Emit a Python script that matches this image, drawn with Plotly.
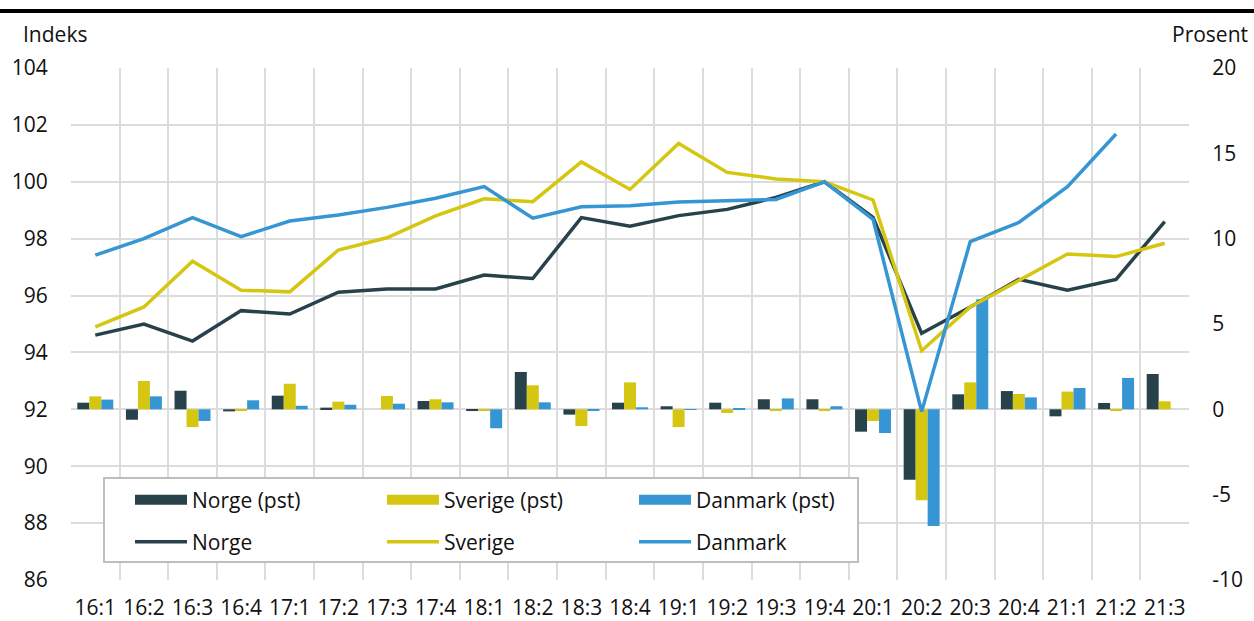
import plotly.graph_objects as go

categories = ["16:1", "16:2", "16:3", "16:4", "17:1", "17:2", "17:3", "17:4",
              "18:1", "18:2", "18:3", "18:4", "19:1", "19:2", "19:3", "19:4",
              "20:1", "20:2", "20:3", "20:4", "21:1", "21:2", "21:3"]

norge_idx = [94.61, 95.0, 94.4, 95.47, 95.35, 96.12, 96.23, 96.23,
             96.72, 96.6, 98.74, 98.44, 98.81, 99.03, 99.45, 100.0,
             98.75, 94.67, 95.6, 96.57, 96.19, 96.57, 98.6]
sverige_idx = [94.9, 95.6, 97.21, 96.19, 96.13, 97.6, 98.03, 98.8,
               99.4, 99.3, 100.7, 99.73, 101.35, 100.33, 100.1, 100.0,
               99.36, 94.06, 95.6, 96.52, 97.46, 97.37, 97.84]
danmark_idx = [97.42, 98.0, 98.74, 98.07, 98.62, 98.83, 99.1, 99.42,
               99.83, 98.72, 99.12, 99.16, 99.29, 99.32, 99.38, 100.0,
               98.68, 91.92, 97.9, 98.57, 99.83, 101.68, None]

norge_pst = [0.39, -0.61, 1.09, -0.12, 0.8, 0.1, 0.0, 0.49,
             -0.1, 2.19, -0.31, 0.39, 0.18, 0.39, 0.59, 0.59,
             -1.31, -4.12, 0.88, 1.07, -0.41, 0.37, 2.07]
sverige_pst = [0.76, 1.66, -1.04, -0.06, 1.5, 0.45, 0.78, 0.59,
               -0.07, 1.41, -0.98, 1.58, -1.04, -0.21, -0.1, -0.1,
               -0.68, -5.33, 1.58, 0.9, 1.04, -0.08, 0.47]
danmark_pst = [0.57, 0.76, -0.68, 0.53, 0.21, 0.27, 0.33, 0.41,
               -1.11, 0.41, -0.05, 0.12, -0.03, 0.04, 0.64, 0.18,
               -1.39, -6.84, 6.45, 0.7, 1.25, 1.84, None]

left_ticks = [86, 88, 90, 92, 94, 96, 98, 100, 102, 104]
right_ticks = [-10, -5, 0, 5, 10, 15, 20]

C_NO = "#27424A"
C_SE = "#D5C611"
C_DK = "#3596D3"
FONT = "Open Sans"
TXT = "#111111"
FS = 21

W, H = 1254, 621
L, R, T, B = 71, 65, 68, 41
pw = W - L - R
ph = H - T - B


def px_x(x):
    return (x - L) / pw


def px_y(y):
    return (H - B - y) / ph


fig = go.Figure()

# Bars (percent change) on the base axis, right side
for name, vals, col in [("Norge (pst)", norge_pst, C_NO),
                        ("Sverige (pst)", sverige_pst, C_SE),
                        ("Danmark (pst)", danmark_pst, C_DK)]:
    fig.add_trace(go.Bar(x=categories, y=vals, name=name, marker_color=col,
                         marker_line_width=0, yaxis="y", showlegend=False))
    # legend swatch (wide rectangle) for the bar series
    fig.add_trace(go.Scatter(x=[None], y=[None], name=name, mode="lines",
                             line=dict(color=col, width=14), yaxis="y",
                             legend="legend"))

# Index lines on the overlaying left axis (drawn above bars)
for name, vals, col in [("Norge", norge_idx, C_NO),
                        ("Sverige", sverige_idx, C_SE),
                        ("Danmark", danmark_idx, C_DK)]:
    fig.add_trace(go.Scatter(x=categories, y=vals, name=name, mode="lines",
                             line=dict(color=col, width=3.5), yaxis="y2",
                             legend="legend2"))

legend_common = dict(orientation="h", xanchor="left", yanchor="middle",
                     bgcolor="rgba(0,0,0,0)", borderwidth=0,
                     entrywidth=185, entrywidthmode="pixels", itemwidth=52,
                     font=dict(size=FS, color=TXT, family=FONT))

fig.update_layout(
    width=W, height=H,
    margin=dict(l=L, r=R, t=T, b=B, autoexpand=False),
    paper_bgcolor="white", plot_bgcolor="white",
    font=dict(family=FONT, size=FS, color=TXT),
    barmode="group", bargap=0.26, bargroupgap=0,
    xaxis=dict(type="category", range=[-0.5, 22.5], tickson="boundaries",
               showgrid=True, gridcolor="#DCDCDC", gridwidth=2,
               ticks="", ticklabelstandoff=13,
               tickangle=0, automargin=False,
               showline=False, zeroline=False,
               tickfont=dict(size=FS, color=TXT)),
    yaxis=dict(range=[-10, 20], tickvals=right_ticks,
               ticktext=[str(v) for v in right_ticks], side="right",
               showgrid=False, zeroline=False, showline=False,
               automargin=False,
               ticks="outside", ticklen=18, tickcolor="rgba(0,0,0,0)",
               tickfont=dict(size=FS, color=TXT)),
    yaxis2=dict(range=[86, 104], tickvals=left_ticks,
                ticktext=[str(v) for v in left_ticks], side="left",
                overlaying="y", automargin=False,
                showgrid=True, gridcolor="#DCDCDC", gridwidth=2,
                zeroline=False, showline=False,
                ticks="outside", ticklen=18, tickcolor="rgba(0,0,0,0)",
                tickfont=dict(size=FS, color=TXT)),
    legend=dict(x=px_x(130), y=px_y(500), **legend_common),
    legend2=dict(x=px_x(130), y=px_y(542), **legend_common),
)

# legend frame
fig.add_shape(type="rect", xref="paper", yref="paper",
              x0=px_x(104), x1=px_x(858), y0=px_y(562), y1=px_y(478),
              fillcolor="white", line=dict(color="#BEBEBE", width=2),
              layer="above")

fig.add_annotation(text="Indeks", xref="paper", yref="paper",
                   x=px_x(21), y=px_y(34), xanchor="left",
                   yanchor="middle", showarrow=False,
                   font=dict(size=FS, color=TXT))
fig.add_annotation(text="Prosent", xref="paper", yref="paper",
                   x=px_x(1250), y=px_y(34), xanchor="right",
                   yanchor="middle", showarrow=False,
                   font=dict(size=FS, color=TXT))
fig.add_shape(type="line", xref="paper", yref="paper",
              x0=px_x(0), x1=px_x(W), y0=px_y(11), y1=px_y(11),
              line=dict(color="black", width=4))

fig.write_html("out.html",
               config={"displayModeBar": False},
               post_script="document.body.style.margin='0px';"
                           "document.body.style.overflow='hidden';")
